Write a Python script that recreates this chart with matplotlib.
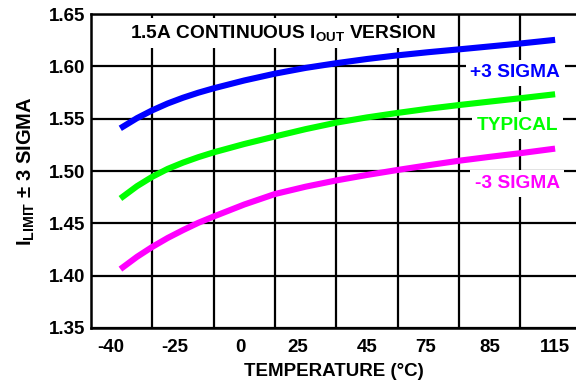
import numpy as np
import matplotlib
matplotlib.use("Agg")
import matplotlib.pyplot as plt

# ------------------------------------------------------------
# Data
# x is given in grid cells from the left axis (the printed
# temperature labels are not linearly spaced on the original)
# ------------------------------------------------------------
x_pos = [0.52, 0.75, 1.0, 1.25, 1.5, 1.75, 2.0, 2.5, 3.0, 3.5,
         4.0, 4.5, 5.0, 5.5, 6.0, 6.5, 7.0, 7.52]

plus3_sigma = [1.5423, 1.5505, 1.5580, 1.5645, 1.5700, 1.5748, 1.5790,
               1.5865, 1.5930, 1.5985, 1.6030, 1.6070, 1.6105, 1.6135,
               1.6162, 1.6190, 1.6218, 1.6250]
typical = [1.4755, 1.4855, 1.4945, 1.5020, 1.5080, 1.5132, 1.5178,
           1.5258, 1.5330, 1.5400, 1.5462, 1.5512, 1.5555, 1.5595,
           1.5630, 1.5663, 1.5695, 1.5730]
minus3_sigma = [1.4080, 1.4180, 1.4275, 1.4360, 1.4435, 1.4505, 1.4565,
                1.4680, 1.4780, 1.4850, 1.4910, 1.4962, 1.5010, 1.5055,
                1.5098, 1.5135, 1.5170, 1.5210]

temp_labels = ["-40", "-25", "0", "25", "45", "75", "85", "115"]
temp_label_pos = [0.32, 1.37, 2.43, 3.38, 4.50, 5.46, 6.51, 7.57]
y_ticks = [1.35, 1.40, 1.45, 1.50, 1.55, 1.60, 1.65]

# ------------------------------------------------------------
# Style
# ------------------------------------------------------------
plt.rcParams.update({
    "font.family": "Liberation Sans",
    "font.weight": "bold",
    "font.size": 13.5,
    "mathtext.fontset": "custom",
    "mathtext.rm": "Liberation Sans:bold",
    "mathtext.bf": "Liberation Sans:bold",
    "mathtext.it": "Liberation Sans:bold",
})

fig = plt.figure(figsize=(5.76, 3.83), dpi=100)
ax = fig.add_axes([91 / 576, 1 - 328 / 383, 485 / 576, 314 / 383])

blue = "#0000FF"
green = "#00FF00"
magenta = "#FF00FF"

ax.plot(x_pos, plus3_sigma, color=blue, lw=4.4, zorder=2)
ax.plot(x_pos, typical, color=green, lw=4.4, zorder=2)
ax.plot(x_pos, minus3_sigma, color=magenta, lw=4.4, zorder=2)

ax.set_xlim(0, 7.91)
ax.set_ylim(1.35, 1.65)

# gridlines on the cell boundaries, labels in between
ax.set_xticks(range(1, 8), minor=True)
ax.set_xticks(temp_label_pos)
ax.set_xticklabels(temp_labels)
ax.set_yticks(y_ticks)
ax.set_yticklabels([f"{v:.2f}" for v in y_ticks])

ax.grid(True, which="minor", axis="x", color="black", lw=1.6)
ax.grid(True, which="major", axis="y", color="black", lw=1.6)
ax.set_axisbelow(True)
ax.tick_params(axis="both", which="both", length=0)
ax.tick_params(axis="x", pad=8, labelsize=13.5)
ax.tick_params(axis="y", pad=4, labelsize=13.5)

for side in ["left", "bottom", "top"]:
    ax.spines[side].set_linewidth(1.8)
ax.spines["right"].set_visible(False)

ax.set_xlabel("TEMPERATURE (°C)", fontsize=13.5, fontweight="bold", labelpad=5)
ax.set_ylabel(r"I$_{\mathrm{LIMIT}}$ ± 3 SIGMA", fontsize=14.5,
              fontweight="bold", labelpad=9)

box = dict(boxstyle="square,pad=0.25", facecolor="white", edgecolor="none")

ax.text(3.13, 1.6268, r"1.5A CONTINUOUS I$_{\mathrm{OUT}}$ VERSION",
        ha="center", va="baseline", fontsize=13.8, bbox=box, zorder=3)
ax.text(6.92, 1.5895, "+3 SIGMA", color=blue, ha="center", va="baseline",
        fontsize=13.8, bbox=box, zorder=3)
ax.text(6.95, 1.5392, "TYPICAL", color=green, ha="center", va="baseline",
        fontsize=13.8, bbox=box, zorder=3)
ax.text(6.95, 1.4835, "-3 SIGMA", color=magenta, ha="center", va="baseline",
        fontsize=13.8, bbox=box, zorder=3)

fig.savefig("out.png", dpi=100)
